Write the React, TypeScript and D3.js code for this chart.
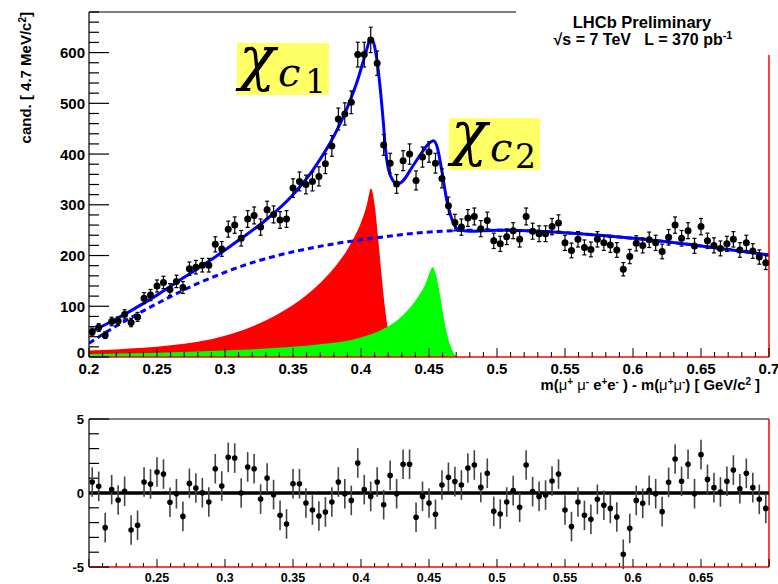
import React from 'react';
import * as d3 from 'd3';

// Histogram binning of the mass-difference spectrum
const X_MIN = 0.2;
const X_MAX = 0.7;
const N_BINS = 105;

// Candidates per bin
const counts = [
  50, 58, 43, 70, 71, 84, 68, 79, 116, 122,
  140, 147, 133, 149, 137, 174, 177, 181, 181, 222,
  213, 252, 260, 234, 272, 279, 256, 290, 281, 270,
  272, 333, 346, 340, 346, 356, 381, 416, 469, 479,
  502, 596, 596, 625, 579, 418, 382, 341, 387, 400,
  348, 394, 404, 382, 352, 298, 265, 256, 274, 277,
  253, 269, 229, 223, 237, 249, 232, 277, 248, 243,
  243, 257, 264, 225, 210, 232, 216, 212, 232, 225,
  221, 211, 173, 198, 224, 220, 231, 225, 208, 236,
  260, 234, 249, 219, 257, 229, 220, 214, 223, 232,
  211, 225, 209, 197, 186,
];

// Pulls (data - fit) / error per bin
const pulls = [
  0.74, 0.45, -2.34, 0.23, -0.47, 0.11, -2.5, -2.18, 0.74, 0.61,
  1.42, 1.28, -0.63, -0.05, -1.58, 0.65, 0.34, 0.02, -0.61, 1.64,
  0.47, 2.41, 2.36, 0, 1.76, 1.64, -0.41, 1.01, -0.11, -1.51,
  -2.09, 0.63, 0.63, -0.68, -1.15, -1.55, -1.28, -0.61, 0.74, -0.05,
  -0.5, 2.03, 0.23, -0.23, 0.74, -0.79, 1.19, -0.05, 1.94, 1.94,
  -1.64, -0.23, -0.68, -1.44, 0.54, 1.06, 0.77, 0.54, 1.69, 1.89,
  0.38, 1.33, -1.24, -1.42, -0.61, 0.16, -0.97, 1.89, 0.09, -0.23,
  -0.14, 0.81, 1.28, -1.15, -2.27, -0.61, -1.51, -1.78, -0.43, -0.83,
  -1.04, -1.62, -4.14, -2.39, -0.5, -0.7, 0.18, -0.05, -1.26, 0.72,
  2.3, 0.79, 1.94, -0.05, 2.59, 0.92, 0.36, 0.07, 0.79, 1.55,
  0.29, 1.33, 0.36, -0.43, -1.04,
];

// Total fit curve
const fitX = [0.2, 0.215, 0.23, 0.25, 0.27, 0.29, 0.31, 0.33, 0.35, 0.365, 0.38, 0.39, 0.398, 0.403, 0.4075,
  0.41, 0.412, 0.414, 0.4165, 0.418, 0.42, 0.4235, 0.4265, 0.43, 0.438, 0.445, 0.45, 0.4532, 0.456,
  0.4593, 0.463, 0.468, 0.4716, 0.48, 0.5, 0.55, 0.6, 0.65, 0.7];
const fitY = [48, 68, 90, 122, 157, 192, 230, 270, 320, 370, 435, 492, 550, 595, 628,
  612, 580, 533, 460, 410, 372, 348, 341, 345, 376, 404, 421, 426, 414,
  369, 310, 264, 251, 248, 250, 245, 234, 219, 201];

// Combinatorial background
const bkgX = [0.2, 0.22, 0.24, 0.26, 0.28, 0.3, 0.32, 0.34, 0.36, 0.38, 0.4, 0.42, 0.44, 0.46, 0.48, 0.5,
  0.55, 0.6, 0.65, 0.7];
const bkgY = [27, 61, 91, 119, 145, 167, 186, 201, 213, 223, 231, 238, 244, 248, 250, 250,
  245, 234, 219, 201];

// chi_c1 signal component
const chic1X = [0.2, 0.22, 0.24, 0.26, 0.28, 0.3, 0.32, 0.34, 0.36, 0.37, 0.38, 0.39, 0.395, 0.4, 0.404,
  0.4074, 0.41, 0.4127, 0.415, 0.4177, 0.42, 0.423, 0.4265, 0.43];
const chic1Y = [13, 15, 18, 23, 30, 42, 60, 86, 122, 146, 175, 212, 236, 265, 297,
  332, 300, 231, 165, 95, 52, 20, 5, 0];

// chi_c2 signal component
const chic2X = [0.2, 0.2449, 0.28, 0.3184, 0.35, 0.3699, 0.3993, 0.4176, 0.4287, 0.4397, 0.4471, 0.4529,
  0.4551, 0.4581, 0.4618, 0.4655, 0.47, 0.472];
const chic2Y = [6, 8, 11, 15, 20, 25, 38, 57, 77, 110, 142, 177,
  162, 122, 63, 24, 2, 0];

const yTicksTop = [0, 100, 200, 300, 400, 500, 600];
const xTicksTop = [0.2, 0.25, 0.3, 0.35, 0.4, 0.45, 0.5, 0.55, 0.6, 0.65, 0.7];
const xLabelsTop = ['0.2', '0.25', '0.3', '0.35', '0.4', '0.45', '0.5', '0.55', '0.6', '0.65', '0.7'];
const xTicksRes = [0.25, 0.3, 0.35, 0.4, 0.45, 0.5, 0.55, 0.6, 0.65];
const xLabelsRes = ['0.25', '0.3', '0.35', '0.4', '0.45', '0.5', '0.55', '0.6', '0.65'];
const yTicksRes = [-5, 0, 5];

const FONT = '"Liberation Sans", Arial, Helvetica, sans-serif';
const TEX = '"DejaVu Serif", "Liberation Serif", serif';
const NBSP = '\u00a0';

export default function App() {
  const W = 778;
  const H = 584;
  const left = 89;
  const right = 769;

  const x = d3.scaleLinear().domain([X_MIN, X_MAX]).range([left, right]);
  const yTop = d3.scaleLinear().domain([0, 680]).range([357, 12]);
  const yRes = d3.scaleLinear().domain([-5, 5]).range([567, 419]);

  const binW = (X_MAX - X_MIN) / N_BINS;
  const centers = counts.map((_, i) => X_MIN + (i + 0.5) * binW);

  const pts = (xs: number[], ys: number[]) => xs.map((v, i) => [v, ys[i]] as [number, number]);

  const line = d3.line<[number, number]>()
    .x((d) => x(d[0]))
    .y((d) => yTop(d[1]))
    .curve(d3.curveMonotoneX);
  const area = d3.area<[number, number]>()
    .x((d) => x(d[0]))
    .y0(yTop(0))
    .y1((d) => yTop(d[1]))
    .curve(d3.curveMonotoneX);

  const minorX = d3.range(0, 51).map((k) => X_MIN + k * 0.01);
  const minorYTop = d3.range(0, 35).map((k) => k * 20);
  const minorYRes = d3.range(-5, 6);

  const sup = (s: string, size = 10) => (
    <tspan baselineShift="super" fontSize={size}>{s}</tspan>
  );
  const greek = (s: string) => <tspan fontWeight="normal">{s}</tspan>;

  return (
    <svg width={W} height={H} style={{ position: 'absolute', left: 0, top: 0, background: '#fff' }}
      fontFamily={FONT}>
      <defs>
        <clipPath id="topClip">
          <rect x={left} y={12} width={right - left} height={345} />
        </clipPath>
      </defs>

      {/* ---------- main spectrum panel ---------- */}
      <g clipPath="url(#topClip)">
        <path d={area(pts(chic1X, chic1Y)) || ''} fill="#ff0000" />
        <path d={area(pts(chic2X, chic2Y)) || ''} fill="#00ff00" />
        <path d={line(pts(bkgX, bkgY)) || ''} fill="none" stroke="#0000ff" strokeWidth={3}
          strokeDasharray="6,4" />
        <path d={line(pts(fitX, fitY)) || ''} fill="none" stroke="#0000ff" strokeWidth={3} />
      </g>

      {/* frame */}
      <line x1={left} x2={right} y1={12} y2={12} stroke="#000" strokeWidth={1.2} />
      <line x1={right} x2={right} y1={12} y2={357} stroke="#ff0000" strokeWidth={1.5} />
      <line x1={left} x2={right} y1={357} y2={357} stroke="#ff0000" strokeWidth={1.5} />
      <line x1={left} x2={left} y1={12} y2={357} stroke="#000" strokeWidth={1.2} />

      {/* y axis ticks */}
      {minorYTop.map((v) => (
        <line key={'yt' + v} x1={left} x2={left + (v % 100 === 0 ? 20 : 10)} y1={yTop(v)} y2={yTop(v)}
          stroke="#000" strokeWidth={1.2} />
      ))}
      {yTicksTop.map((v) => (
        <text key={'yl' + v} x={85} y={yTop(v) + 5.5 - (v === 0 ? 5 : 0)} textAnchor="end" fontSize={15}
          fontWeight="bold">{v}</text>
      ))}

      {/* x axis ticks */}
      {minorX.map((v, k) => (
        <line key={'xt' + k} x1={x(v)} x2={x(v)} y1={357} y2={357 - (k % 5 === 0 ? 9 : 5)}
          stroke="#000" strokeWidth={1} />
      ))}
      {xTicksTop.map((v, k) => (
        <text key={'xl' + k} x={x(v)} y={374} textAnchor="middle" fontSize={15} fontWeight="bold">
          {xLabelsTop[k]}
        </text>
      ))}

      {/* data points */}
      {centers.map((c, i) => {
        const e = Math.sqrt(counts[i]);
        const cx = x(c);
        return (
          <g key={'p' + i}>
            <line x1={cx} x2={cx} y1={yTop(counts[i] - e)} y2={yTop(counts[i] + e)} stroke="#000"
              strokeWidth={1.2} />
            <line x1={cx - 2} x2={cx + 2} y1={yTop(counts[i] - e)} y2={yTop(counts[i] - e)} stroke="#000"
              strokeWidth={1.2} />
            <line x1={cx - 2} x2={cx + 2} y1={yTop(counts[i] + e)} y2={yTop(counts[i] + e)} stroke="#000"
              strokeWidth={1.2} />
            <circle cx={cx} cy={yTop(counts[i])} r={3.5} fill="#000" />
          </g>
        );
      })}

      {/* axis titles */}
      <text transform="translate(31,12) rotate(-90)" textAnchor="end" fontSize={15} fontWeight="bold">
        cand. [ 4.7 MeV/c{sup('2')}]
      </text>
      <text x={760} y={390} textAnchor="end" fontSize={14.8} fontWeight="bold">
        m({greek('μ')}{sup('+')} {greek('μ')}{sup('-')} e{sup('+')}e{sup('-')} ) - m({greek('μ')}{sup('+')}{greek('μ')}{sup('-')}) [ GeV/c{sup('2')} ]
      </text>

      {/* experiment label */}
      <rect x={516} y={0} width={262} height={55} fill="#fff" />
      <text x={642} y={28} textAnchor="middle" fontSize={16.5} fontWeight="bold">LHCb Preliminary</text>
      <text x={643} y={45} textAnchor="middle" fontSize={16} fontWeight="bold">
        {'√s = 7 TeV' + NBSP + NBSP + NBSP + 'L = 370 pb'}{sup('-1', 11)}
      </text>

      {/* state labels */}
      <rect x={237} y={43} width={92} height={52} fill="#ffff66" />
      <text fontFamily={TEX} fill="#000">
        <tspan x={239} y={79} fontSize={60} fontStyle="italic">χ</tspan>
        <tspan x={278} y={86} fontSize={40} fontStyle="italic">c</tspan>
        <tspan x={305} y={93} fontSize={33}>1</tspan>
      </text>
      <rect x={449} y={118} width={91} height={52} fill="#ffff66" />
      <text fontFamily={TEX} fill="#000">
        <tspan x={451} y={154} fontSize={60} fontStyle="italic">χ</tspan>
        <tspan x={490} y={161} fontSize={40} fontStyle="italic">c</tspan>
        <tspan x={515} y={168} fontSize={33}>2</tspan>
      </text>

      {/* ---------- pull panel ---------- */}
      <line x1={left} x2={right} y1={419} y2={419} stroke="#000" strokeWidth={1.2} />
      <line x1={left} x2={left} y1={419} y2={567} stroke="#000" strokeWidth={1.2} />
      <line x1={left} x2={right} y1={567} y2={567} stroke="#ff0000" strokeWidth={1.5} />
      <line x1={right} x2={right} y1={419} y2={567} stroke="#ff0000" strokeWidth={1.5} />

      {minorYRes.map((v) => (
        <line key={'ryt' + v} x1={left} x2={left + (v % 5 === 0 ? 20 : 10)} y1={yRes(v)} y2={yRes(v)}
          stroke="#000" strokeWidth={1.2} />
      ))}
      {yTicksRes.map((v) => (
        <text key={'ryl' + v} x={84} y={yRes(v) + 4.5} textAnchor="end" fontSize={13} fontWeight="bold">
          {v}
        </text>
      ))}
      {minorX.map((v, k) => (
        <line key={'rxt' + k} x1={x(v)} x2={x(v)} y1={567} y2={567 - (k % 5 === 0 ? 8 : 4)}
          stroke="#000" strokeWidth={1} />
      ))}
      {xTicksRes.map((v, k) => (
        <text key={'rxl' + k} x={x(v)} y={582} textAnchor="middle" fontSize={12.5} fontWeight="bold">
          {xLabelsRes[k]}
        </text>
      ))}

      <line x1={left} x2={right} y1={yRes(0)} y2={yRes(0)} stroke="#000" strokeWidth={3.5} />

      {centers.map((c, i) => {
        const cx = x(c);
        return (
          <g key={'r' + i}>
            <line x1={cx} x2={cx} y1={yRes(pulls[i] - 1)} y2={yRes(pulls[i] + 1)} stroke="#444"
              strokeWidth={1.6} />
            <circle cx={cx} cy={yRes(pulls[i])} r={2.8} fill="#000" />
          </g>
        );
      })}
    </svg>
  );
}
